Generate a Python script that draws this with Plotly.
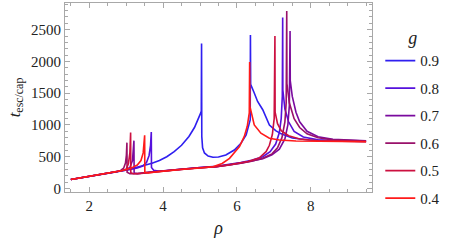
import plotly.graph_objects as go

# g values (legend order) and colours
g_labels = ["0.9", "0.8", "0.7", "0.6", "0.5", "0.4"]
colors = ["#2f1ff0", "#5511dd", "#7a0a9e", "#99116a", "#cc1040", "#ff1a1a"]

rho_09 = [1.5, 1.75, 2.0, 2.25, 2.5, 2.75, 2.9, 3.1, 3.3, 3.5, 3.7, 3.9, 4.1, 4.3, 4.5, 4.7, 4.85, 4.95,
          5.02, 5.035, 5.042, 5.048, 5.07, 5.12, 5.22, 5.35, 5.5, 5.7, 5.93, 6.11, 6.25, 6.33, 6.36, 6.366,
          6.372, 6.47, 6.56, 6.7, 6.88, 7.05, 7.2, 7.5, 7.96, 8.5, 9.5]
t_09 = [142, 165, 188, 212, 238, 265, 282, 305, 330, 365, 398, 440, 500, 580, 680, 820, 960, 1080,
        1190, 1220, 2283, 820, 640, 560, 511, 492, 495, 527, 606, 712, 843, 1000, 1080, 2415,
        1640, 1503, 1370, 1240, 1000, 910, 860, 795, 764, 752, 745]

rho_08 = [1.5, 1.75, 2.0, 2.25, 2.5, 2.75, 2.9, 3.1, 3.3, 3.45, 3.55, 3.62, 3.66, 3.68, 3.685, 3.75, 3.9,
          4.2, 4.54, 5.0, 5.44, 5.8, 6.1, 6.4, 6.7, 6.9, 7.05, 7.15, 7.2, 7.23, 7.24, 7.245, 7.3, 7.4,
          7.55, 7.8, 8.2, 8.8, 9.5]
t_08 = [142, 165, 188, 212, 238, 265, 282, 300, 322, 355, 410, 520, 680, 890, 330, 285, 272,
        290, 312, 330, 348, 378, 410, 445, 500, 580, 700, 880, 1100, 1450, 2690, 1550, 1250, 1050,
        900, 810, 765, 748, 742]

rho_07 = [1.5, 1.75, 2.0, 2.25, 2.5, 2.75, 2.9, 3.0, 3.1, 3.17, 3.2, 3.21, 3.215, 3.3, 3.64, 4.0, 4.54,
          5.0, 5.44, 5.8, 6.1, 6.4, 6.7, 6.95, 7.15, 7.3, 7.38, 7.42, 7.44, 7.445, 7.5, 7.6, 7.7, 7.9,
          8.2, 8.6, 9.5]
t_07 = [142, 165, 188, 212, 238, 265, 282, 298, 330, 440, 600, 753, 245, 235, 258, 278, 310,
        328, 345, 372, 400, 432, 470, 530, 620, 780, 1000, 1300, 2478, 1700, 1450, 1200, 1050, 900,
        815, 775, 750]

rho_06 = [1.5, 1.75, 2.0, 2.25, 2.5, 2.75, 2.85, 2.93, 2.98, 3.005, 3.02, 3.025, 3.1, 3.3, 3.64, 4.0,
          4.54, 5.0, 5.44, 5.8, 6.1, 6.4, 6.7, 6.95, 7.1, 7.22, 7.3, 7.335, 7.35, 7.355, 7.42, 7.55,
          7.7, 7.9, 8.2, 8.6, 9.5]
t_06 = [142, 165, 188, 212, 238, 265, 285, 320, 400, 520, 722, 255, 232, 233, 256, 276,
        308, 326, 343, 370, 398, 430, 475, 545, 640, 800, 1050, 1350, 2794, 1650, 1350, 1100,
        960, 860, 800, 765, 748]

rho_05 = [1.5, 1.75, 2.0, 2.25, 2.5, 2.75, 2.9, 3.0, 3.06, 3.1, 3.12, 3.125, 3.2, 3.4, 3.64, 4.0, 4.54,
          5.0, 5.44, 5.8, 6.1, 6.3, 6.6, 6.79, 6.88, 6.96, 7.01, 7.03, 7.035, 7.1, 7.2, 7.4, 7.7, 8.2,
          9.5]
t_05 = [142, 165, 188, 212, 238, 265, 282, 305, 390, 560, 880, 250, 232, 238, 255, 274, 306,
        324, 342, 372, 400, 425, 480, 580, 680, 850, 1100, 2400, 1200, 1020, 910, 830, 780, 752,
        738]

rho_04 = [1.5, 1.75, 2.0, 2.25, 2.5, 2.75, 2.9, 3.0, 3.15, 3.3, 3.4, 3.46, 3.49, 3.5, 3.505, 3.6, 3.8,
          4.1, 4.5, 5.0, 5.35, 5.6, 5.8, 6.07, 6.2, 6.28, 6.335, 6.345, 6.352, 6.47, 6.65, 6.88, 7.15,
          7.6, 8.5, 9.5]
t_04 = [142, 165, 188, 212, 238, 265, 282, 298, 325, 370, 440, 560, 700, 837, 255, 245, 260,
        280, 300, 322, 342, 395, 474, 659, 820, 980, 1190, 1993, 1290, 1001, 870, 791, 764,
        748, 740, 737]

series_rho = [rho_09, rho_08, rho_07, rho_06, rho_05, rho_04]
series_t = [t_09, t_08, t_07, t_06, t_05, t_04]

x_ticks = [2, 4, 6, 8]
y_ticks = [0, 500, 1000, 1500, 2000, 2500]

FONT = "Liberation Serif, Times New Roman, serif"
FRAME = "#a8a8a8"

fig = go.Figure()
for lab, col, xs, ys in zip(g_labels, colors, series_rho, series_t):
    fig.add_trace(go.Scatter(x=xs, y=ys, mode="lines", name=lab, legendgroup=lab,
                             line=dict(color=col, width=1.6)))

axis_common = dict(showline=True, linecolor=FRAME, linewidth=1, mirror="ticks",
                   ticks="inside", ticklen=5, tickcolor=FRAME, showgrid=False, zeroline=False,
                   tickfont=dict(family=FONT, size=15, color="#222"))

fig.update_xaxes(range=[1.342, 9.66], tickvals=x_ticks, **axis_common,
                 minor=dict(dtick=0.5, tick0=0, ticks="inside", ticklen=3, tickcolor=FRAME),
                 title=dict(text="<i>ρ</i>", font=dict(family=FONT, size=18, color="#222"), standoff=8))
fig.update_yaxes(range=[-55, 2920], tickvals=y_ticks, **axis_common,
                 minor=dict(dtick=100, tick0=0, ticks="inside", ticklen=3, tickcolor=FRAME),
                 title=dict(text="<i>t</i><sub>esc/cap</sub>", font=dict(family=FONT, size=17, color="#222"),
                            standoff=6))

fig.update_layout(
    width=449, height=243,
    margin=dict(l=65, r=77, t=3, b=51, autoexpand=False),
    paper_bgcolor="white", plot_bgcolor="white",
    showlegend=True,
    legend=dict(x=1.027, y=0.905, xanchor="left", yanchor="top",
                font=dict(family=FONT, size=15, color="#222"),
                title=dict(text="<i>g</i>", side="top center", font=dict(family=FONT, size=18, color="#222")),
                tracegroupgap=5, itemwidth=30, maxheight=240, bgcolor="rgba(0,0,0,0)"),
)

fig.write_html("out.html", config={"displayModeBar": False},
               post_script="document.body.style.margin='0px';document.body.style.overflow='hidden';")
